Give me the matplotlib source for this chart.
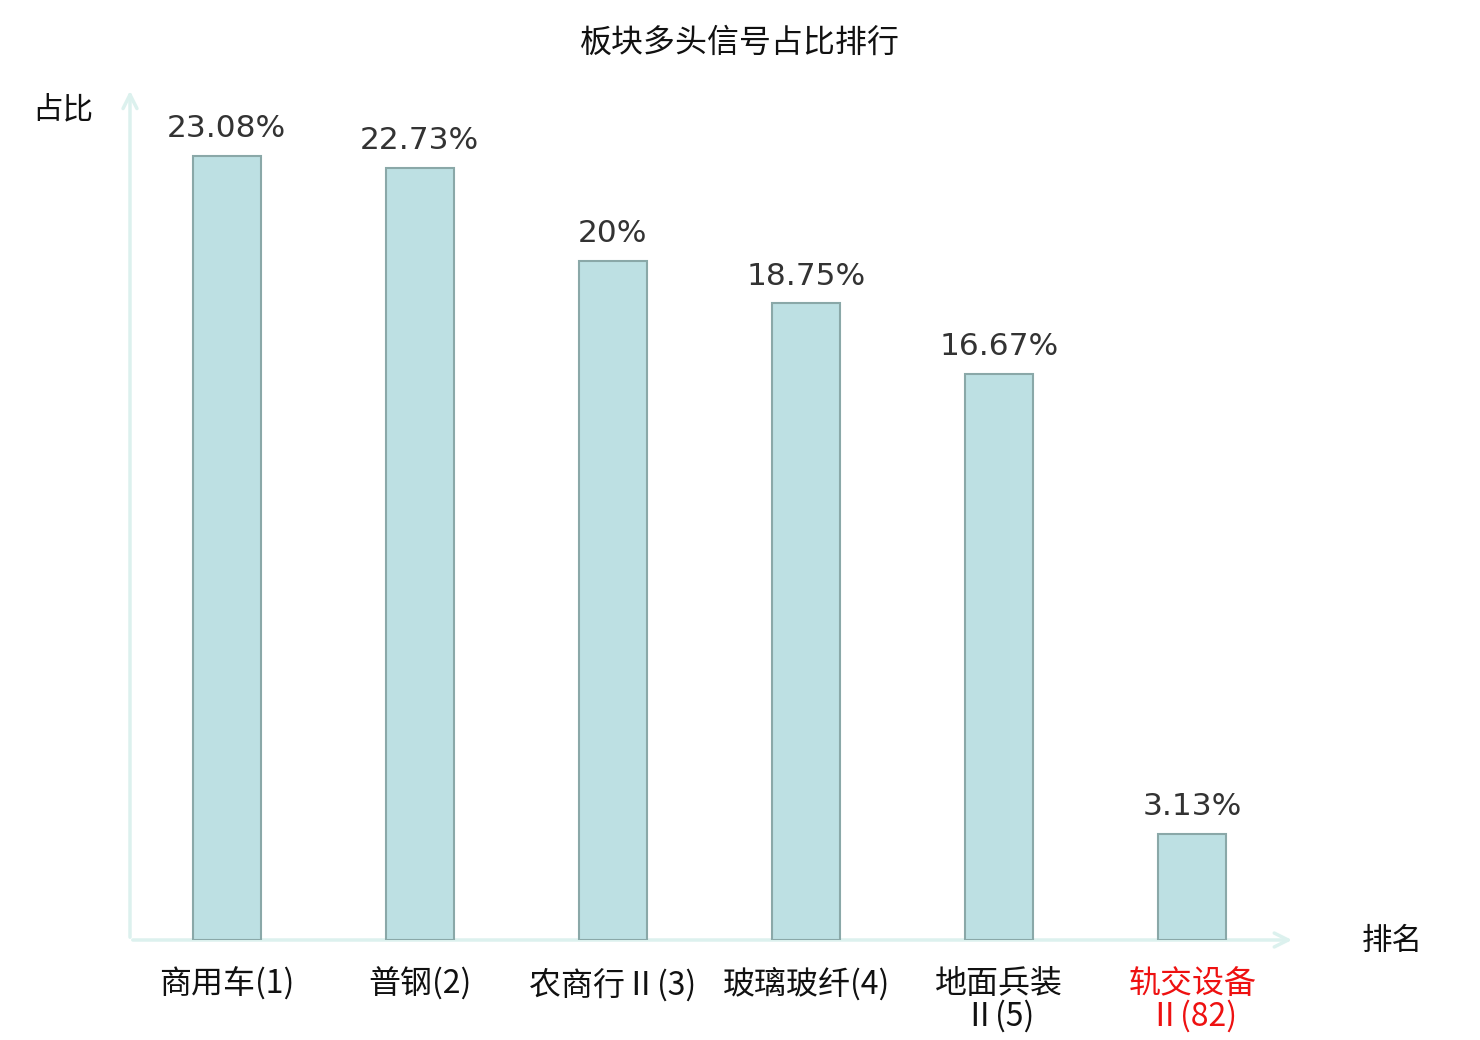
import matplotlib.pyplot as plt

plt.switch_backend('agg')
plt.rcParams['font.family'] = ['Noto Sans CJK SC', 'DejaVu Sans']

title = '板块多头信号占比排行'
categories = ['商用车(1)', '普钢(2)', '农商行Ⅱ(3)', '玻璃玻纤(4)', '地面兵装\nⅡ(5)', '轨交设备\nⅡ(82)']
values = [23.08, 22.73, 20.0, 18.75, 16.67, 3.13]
value_labels = ['23.08%', '22.73%', '20%', '18.75%', '16.67%', '3.13%']
label_colors = ['#111111'] * 5 + ['#ee1111']

W, H = 1480, 1040
fig = plt.figure(figsize=(W / 100, H / 100), dpi=100)

# axes box in pixels: x 130..1289, y 88..940
ax = fig.add_axes([130 / W, 100 / H, 1159 / W, 852 / H])
ax.set_xlim(-0.5, 5.5)
ax.set_ylim(0, 25.08)
for s in ax.spines.values():
    s.set_visible(False)
ax.set_yticks([])

x = list(range(len(categories)))
ax.bar(x, values, width=0.352, color='#bde0e3', edgecolor='#8aa8a8', linewidth=1.5, zorder=3)

# axis arrows
arrow_col = '#dcf1ee'
ax.annotate('', xy=(1.005, 0), xytext=(0, 0), xycoords='axes fraction',
            arrowprops=dict(arrowstyle='->,head_length=1.0,head_width=0.5', color=arrow_col, lw=2.5),
            zorder=2)
ax.annotate('', xy=(0, 1.0), xytext=(0, 0), xycoords='axes fraction',
            arrowprops=dict(arrowstyle='->,head_length=1.0,head_width=0.5', color=arrow_col, lw=2.5),
            zorder=2)

for xi, v, lab in zip(x, values, value_labels):
    ax.annotate(lab, (xi, v), xytext=(0, 9), textcoords='offset points',
                ha='center', va='bottom', fontsize=22.5, color='#333333',
                family='DejaVu Sans')

ax.set_xticks(x)
ax.set_xticklabels(categories, fontsize=23, linespacing=1.0)
ax.tick_params(axis='x', length=0, pad=20)
for t, c in zip(ax.get_xticklabels(), label_colors):
    t.set_color(c)

fig.text(740 / W, 1 - 43 / H, title, ha='center', va='center', fontsize=23, color='#111111')
fig.text(63 / W, 1 - 110 / H, '占比', ha='center', va='center', fontsize=22, color='#111111')
fig.text(1392 / W, 1 - 941 / H, '排名', ha='center', va='center', fontsize=22, color='#111111')

fig.savefig('out.png', dpi=100)
